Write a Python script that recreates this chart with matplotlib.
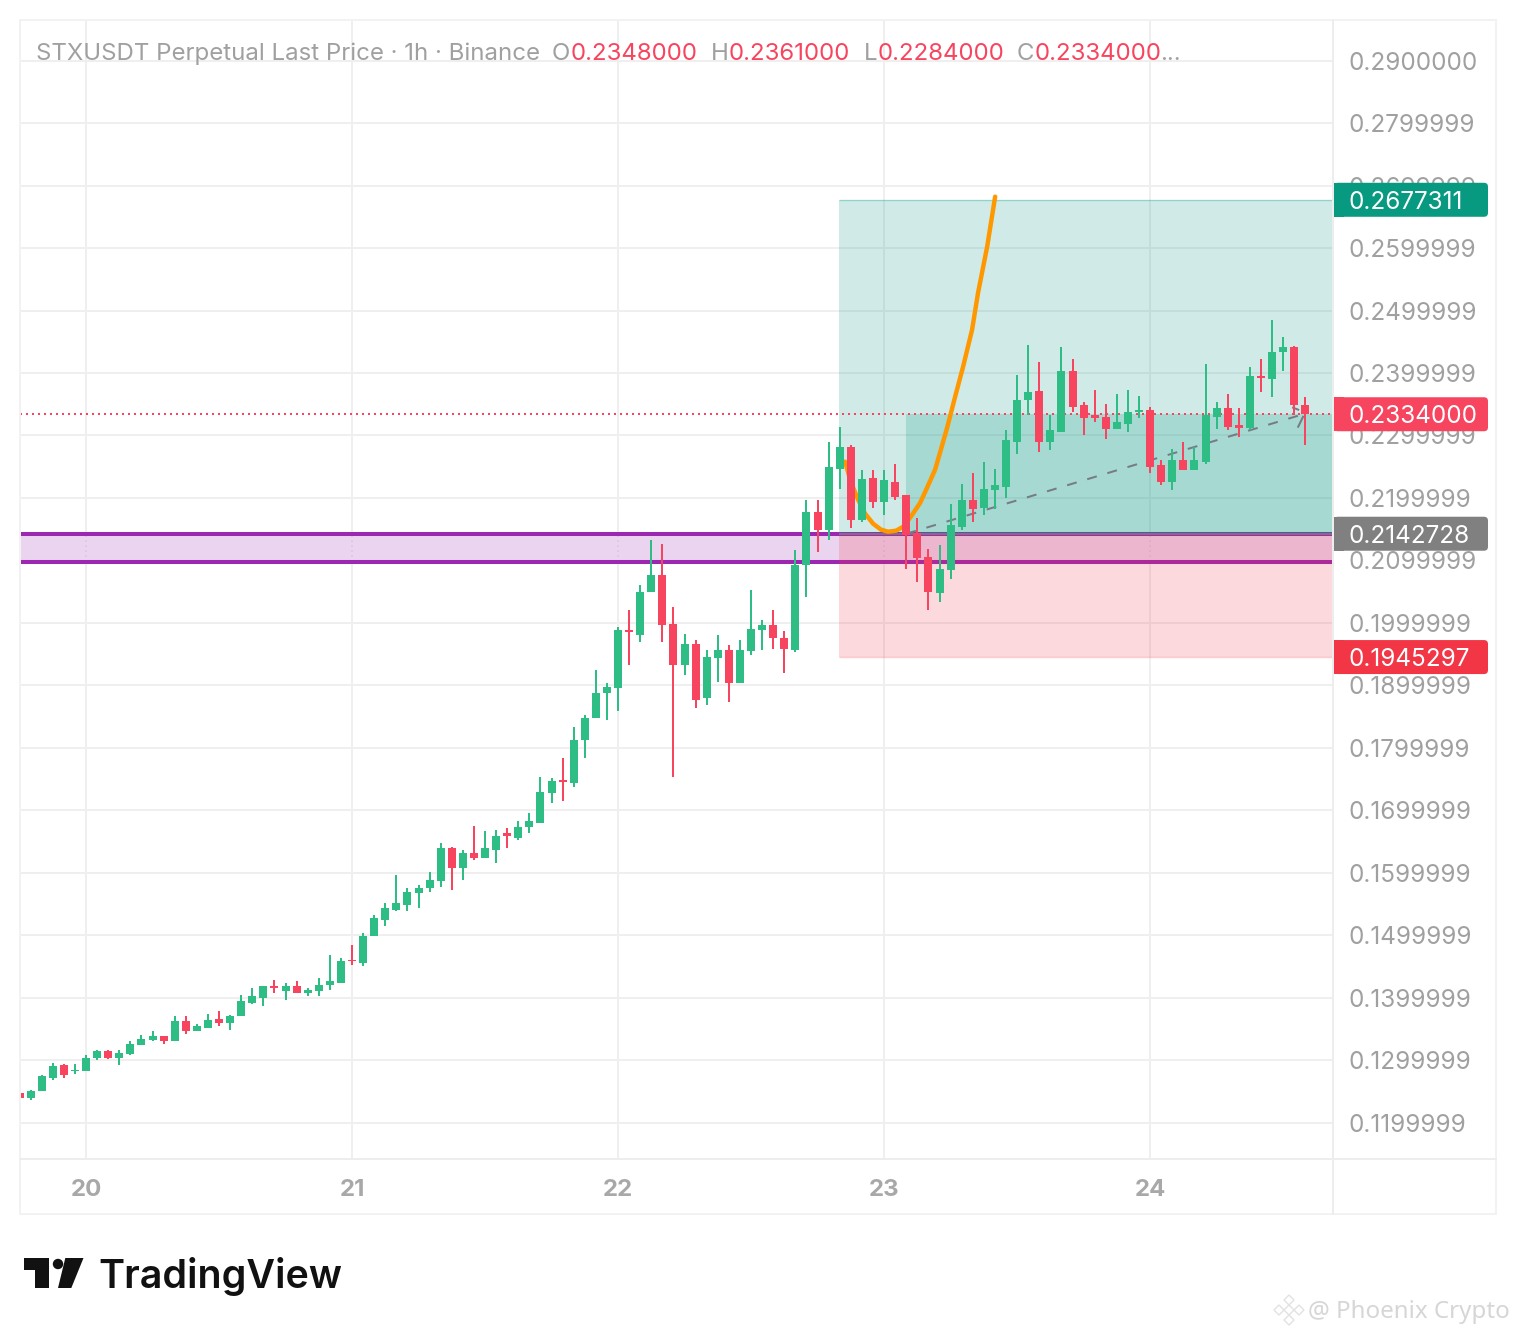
import numpy as np
from matplotlib import pyplot as plt
from matplotlib.patches import FancyBboxPatch, Rectangle, Polygon, Circle

plt.rcParams['font.family'] = ['Inter', 'DejaVu Sans']

# Hourly candles, hour 0 = day 20 00:00
hours = list(range(-6, 111))
opens = [
    .1248, .1240, .1250, .1272, .1293, .1282, .1282, .1304, .1315, .1304, .1310, .1325, .1333, .1339, .1330,
    .1363, .1347, .1352, .1366, .1360, .1370, .1392, .1400, .1419, .1411, .1419, .1407, .1411, .1421, .1424,
    .1461, .1455, .1498, .1525, .1541, .1549, .1568, .1575, .1587, .1640, .1608, .1631, .1624, .1637, .1663,
    .1656, .1674, .1680, .1728, .1749, .1744, .1812, .1847, .1887, .1896, .1989, .1981, .2050, .2076, .1999,
    .1933, .1967, .1879, .1943, .1957, .1903, .1955, .1989, .1997, .1976, .1957, .2092, .2178, .2148, .2247,
    .2282, .2165, .2232, .2194, .2226, .2205, .2144, .2106, .2048, .2084, .2154, .2197, .2184, .2213, .2218,
    .2289, .2357, .2372, .2290, .2306, .2404, .2348, .2332, .2330, .2311, .2319, .2338, .2340, .2252, .2225,
    .2261, .2245, .2258, .2330, .2344, .2317, .2312, .2396, .2391, .2433, .2442, .2348,
]
highs = [
    .1248, .1253, .1277, .1296, .1294, .1294, .1309, .1317, .1317, .1317, .1330, .1341, .1346, .1339, .1371,
    .1371, .1358, .1374, .1379, .1373, .1405, .1415, .1418, .1429, .1423, .1427, .1416, .1431, .1469, .1463,
    .1485, .1504, .1533, .1551, .1597, .1575, .1581, .1602, .1647, .1642, .1637, .1675, .1667, .1669, .1671,
    .1683, .1695, .1754, .1751, .1783, .1834, .1853, .1924, .1903, .1994, .2020, .2060, .2132, .2127, .2026,
    .1983, .1973, .1956, .1981, .1965, .1973, .2052, .2005, .2020, .1987, .2117, .2197, .2197, .2290, .2314,
    .2284, .2245, .2245, .2245, .2255, .2205, .2168, .2119, .2125, .2191, .2223, .2240, .2258, .2247, .2309,
    .2397, .2445, .2418, .2333, .2442, .2423, .2354, .2373, .2351, .2367, .2373, .2364, .2346, .2260, .2279,
    .2289, .2282, .2415, .2354, .2367, .2344, .2409, .2423, .2485, .2457, .2444, .2361,
]
lows = [
    .1240, .1237, .1250, .1269, .1272, .1278, .1282, .1301, .1302, .1293, .1309, .1325, .1331, .1326, .1330,
    .1342, .1346, .1352, .1355, .1349, .1370, .1390, .1386, .1407, .1397, .1407, .1403, .1403, .1413, .1424,
    .1453, .1450, .1498, .1514, .1538, .1538, .1543, .1570, .1578, .1573, .1589, .1621, .1624, .1616, .1639,
    .1653, .1664, .1680, .1711, .1715, .1738, .1784, .1847, .1844, .1859, .1933, .1970, .2050, .1970, .1754,
    .1917, .1864, .1869, .1906, .1874, .1903, .1949, .1957, .1959, .1920, .1954, .2042, .2114, .2133, .2215,
    .2152, .2162, .2184, .2172, .2197, .2087, .2066, .2021, .2034, .2071, .2148, .2162, .2173, .2183, .2200,
    .2271, .2333, .2274, .2276, .2306, .2338, .2301, .2321, .2295, .2311, .2306, .2328, .2240, .2220, .2212,
    .2244, .2245, .2255, .2311, .2308, .2298, .2308, .2370, .2362, .2404, .2332, .2284,
]
closes = [
    .1240, .1251, .1274, .1291, .1277, .1285, .1304, .1315, .1304, .1312, .1326, .1334, .1339, .1330, .1362,
    .1347, .1354, .1365, .1360, .1370, .1394, .1402, .1418, .1416, .1419, .1407, .1413, .1421, .1426, .1459,
    .1458, .1498, .1527, .1543, .1552, .1570, .1576, .1589, .1640, .1608, .1631, .1624, .1639, .1659, .1659,
    .1674, .1683, .1730, .1747, .1746, .1813, .1848, .1887, .1898, .1989, .1986, .2050, .2076, .1997, .1933,
    .1967, .1877, .1946, .1956, .1903, .1957, .1991, .1997, .1976, .1959, .2093, .2178, .2148, .2250, .2282,
    .2165, .2231, .2194, .2228, .2202, .2141, .2104, .2050, .2087, .2156, .2197, .2183, .2215, .2220, .2292,
    .2357, .2370, .2290, .2308, .2404, .2346, .2328, .2328, .2311, .2322, .2338, .2341, .2250, .2226, .2260,
    .2245, .2260, .2332, .2344, .2314, .2312, .2396, .2392, .2434, .2441, .2348, .2334,
]

day_hours = [0, 24, 48, 72, 96]
day_labels = ['20', '21', '22', '23', '24']
price_ticks = [.29, .28, .27, .26, .25, .24, .23, .22, .21, .20, .19, .18, .17, .16, .15, .14, .13, .12]
price_labels = ['0.2900000', '0.2799999', '0.2699999', '0.2599999', '0.2499999', '0.2399999',
                '0.2299999', '0.2199999', '0.2099999', '0.1999999', '0.1899999', '0.1799999',
                '0.1699999', '0.1599999', '0.1499999', '0.1399999', '0.1299999', '0.1199999']

# Long position tool and support band
target_price = 0.2677311
entry_price = 0.2142728
stop_price = 0.1945297
last_price = 0.2334000
band_top = 0.2143
band_bottom = 0.2098
position_start = 68
position_filled = 74
trend_end = 109.8

# Two visible pieces of the dashed arrow head
head_upper_hours = [108.9, 109.36]
head_upper_prices = [.23445, .23413]
head_lower_hours = [109.36, 109.8]
head_lower_prices = [.2314, .2330]

# Hand drawn orange path
path_hours = [68.48, 69.02, 69.66, 70.29, 71.01, 71.73, 72.36, 73.09, 73.72, 74.35, 75.25,
              75.88, 76.6, 77.15, 77.69, 78.41, 79.13, 79.94, 80.48, 81.30, 82.02]
path_prices = [.22581, .22245, .21972, .21748, .21588, .21492, .21460, .21476, .21540, .21684, .21920,
               .22164, .22452, .22789, .23125, .23621, .24102, .24694, .25286, .26022, .26823]

GREEN = '#2EBD85'
RED = '#F7455F'
GRID = '#EFEFEF'
TEXT = '#A0A0A0'

W, H = 1516, 1334
fig = plt.figure(figsize=(W / 100, H / 100), dpi=100, facecolor='white')


def pane(x0, y0, x1, y1, **kw):
    return fig.add_axes([x0 / W, 1 - y1 / H, (x1 - x0) / W, (y1 - y0) / H], **kw)


ax = pane(20, 20, 1333, 1159, zorder=1)
x_min, x_max = -5.955, 112.5
y_min, y_max = 0.11418, 0.29651
px_per_hour = (1333 - 20) / (x_max - x_min)
price_per_px = (y_max - y_min) / (1159 - 20)
ax.set_xlim(x_min, x_max)
ax.set_ylim(y_min, y_max)
for spine in ax.spines.values():
    spine.set_visible(False)

ax.set_xticks(day_hours)
ax.set_xticklabels(day_labels, fontsize=17.3, fontweight='bold', color='#A8A8A8')
ax.set_yticks(price_ticks)
ax.set_yticklabels(price_labels, fontsize=17.5, color=TEXT)
ax.tick_params(axis='x', length=0, pad=14.7)
ax.tick_params(axis='y', length=0, pad=11, labelleft=False, labelright=True)
ax.grid(color=GRID, lw=1.44, zorder=0)
ax.set_axisbelow(True)

# Support band
ax.axhspan(band_bottom, band_top, color='#EBD4EF', lw=0, zorder=1)
for day in day_hours:
    ax.vlines(day, band_bottom, band_top, color='#D9C6DD', lw=1.2, ls=(0, (1, 2)), zorder=1.1)
ax.hlines([band_top, band_bottom], x_min, x_max, color='#9C27B0', lw=2.9, zorder=1.2)

# Position zones
ax.add_patch(Rectangle((position_start - 0.06, entry_price), x_max - position_start, target_price - entry_price,
                       fc='#089981', ec='none', alpha=0.19, zorder=2))
ax.add_patch(Rectangle((position_filled - 0.06, entry_price), x_max - position_filled, last_price - entry_price,
                       fc='#089981', ec='none', alpha=0.21, zorder=2))
ax.add_patch(Rectangle((position_start - 0.06, stop_price), x_max - position_start, entry_price - stop_price,
                       fc='#F23645', ec='none', alpha=0.19, zorder=2))
ax.hlines(target_price, position_start - 0.06, x_max, color='#089981', lw=1, alpha=0.3, zorder=2.1)
ax.hlines(stop_price, position_start - 0.06, x_max, color='#F23645', lw=1, alpha=0.25, zorder=2.1)
ax.hlines(entry_price, position_start - 0.06, x_max, color='#787B86', lw=1.2, zorder=2.1)

ax.axhline(last_price, color=RED, lw=1.44, ls=(0, (1, 2)), zorder=2.2)

ax.plot([position_filled, trend_end], [entry_price, last_price], color='#787B86', lw=1.44,
        ls=(0, (5, 5.5)), zorder=2.5)
ax.plot(head_upper_hours, head_upper_prices, color='#787B86', lw=1.44, zorder=2.5)
ax.plot(head_lower_hours, head_lower_prices, color='#787B86', lw=1.44, zorder=2.5)
ax.plot(path_hours, path_prices, color='#FF9800', lw=3.2, solid_capstyle='round', zorder=2.6)

# Candles
colors = [GREEN if c >= o else RED for o, c in zip(opens, closes)]
body_low = [min(o, c) for o, c in zip(opens, closes)]
body_size = [abs(c - o) for o, c in zip(opens, closes)]
ax.vlines(hours, lows, highs, colors=colors, lw=1.44, zorder=3, antialiased=False)
ax.bar(hours, body_size, bottom=body_low, width=8 / px_per_hour, color=colors, lw=0, zorder=3.1)

# Price tags on top of the axis labels
tags = pane(1333, 20, 1496, 1159, zorder=3)
tags.set_xlim(1333, 1496)
tags.set_ylim(y_min, y_max)
tags.axis('off')
tag_h = 34 * price_per_px
for price, color in ((target_price, '#089981'), (last_price, RED), (entry_price, '#808080'), (stop_price, '#F23645')):
    tags.add_patch(FancyBboxPatch((1334, price - tag_h / 2), 154, tag_h,
                                  boxstyle='round,pad=0,rounding_size=4', mutation_aspect=price_per_px,
                                  fc=color, ec='none'))
    tags.add_patch(Rectangle((1334, price - tag_h / 2), 10, tag_h, fc=color, ec='none'))
    tags.text(1349, price, f'{price:.7f}', color='white', fontsize=17.5, va='center_baseline', ha='left')

# Page furniture in pixel coordinates
page = pane(0, 0, W, H, zorder=5)
page.set_xlim(0, W)
page.set_ylim(H, 0)
page.axis('off')
page.add_patch(Rectangle((20, 20), 1476, 1194, fc='none', ec='#F2F2F2', lw=1.44))
page.plot([1333, 1333], [20, 1214], color='#EDEDED', lw=1.44)
page.plot([20, 1496], [1159, 1159], color='#EDEDED', lw=1.44)

header = [
    (36, 'STXUSDT Perpetual Last Price · 1h · Binance', TEXT),
    (552, 'O', TEXT), (571, '0.2348000', RED),
    (711, 'H', TEXT), (729, '0.2361000', RED),
    (864, 'L', TEXT), (878, '0.2284000', RED),
    (1017, 'C', TEXT), (1035, '0.2334000', RED),
    (1160, '...', TEXT),
]
for x, label, color in header:
    page.text(x, 60, label, color=color, fontsize=17.3, va='baseline', ha='left')

# TradingView logo
LOGO = '#111111'
page.add_patch(Polygon([(24, 1258), (49, 1258), (49, 1288), (35, 1288), (35, 1270), (24, 1270)], fc=LOGO, ec='none'))
page.add_patch(Circle((58, 1264), 5.2, fc=LOGO, ec='none'))
page.add_patch(Polygon([(65.3, 1258), (83.5, 1258), (71.3, 1288), (58, 1288)], fc=LOGO, ec='none'))
page.text(98, 1288, 'TradingView', color=LOGO, fontsize=28.4, fontweight='semibold', va='baseline', ha='left')

# Watermark
page.text(1308, 1318, '@ Phoenix Crypto', color='#D6D6D6', fontsize=17.4, family='Noto Sans', va='baseline', ha='left')
for cx, cy in ((1289, 1300), (1279, 1310), (1299, 1310), (1289, 1320), (1289, 1310)):
    page.add_patch(Polygon([(cx, cy - 5), (cx + 5, cy), (cx, cy + 5), (cx - 5, cy)], fc='none', ec='#E2E2E2', lw=1))

plt.savefig('out.png', dpi=100)
plt.close()
